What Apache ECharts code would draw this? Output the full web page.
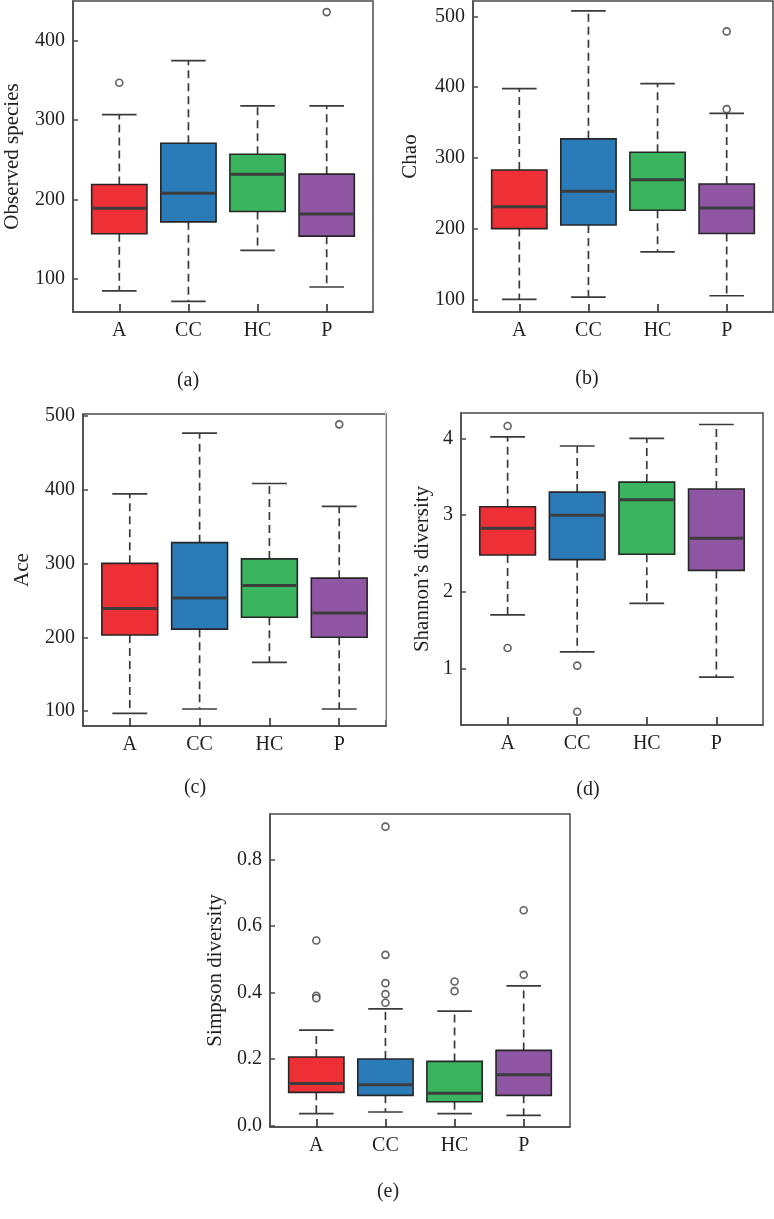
<!DOCTYPE html>
<html>
<head>
<meta charset="utf-8">
<script src="https://cdn.jsdelivr.net/npm/echarts@6/dist/echarts.min.js"></script>
<style>
html,body{margin:0;padding:0;background:#fff;}
#chart{width:774px;height:1219px;}
</style>
</head>
<body>
<div id="chart"></div>
<script>
const categories = ['A', 'CC', 'HC', 'P'];
const boxColors = ['#ed2f36', '#2a7bb8', '#3bb45f', '#8e56a3'];

// each row: [lower whisker, Q1, median, Q3, upper whisker], one row per category
const observedStats = [[85, 157, 189, 219, 307], [72, 172, 208, 271, 375], [136, 185, 232, 257, 318], [90, 154, 182, 232, 318]];
const observedOutliers = [[0, 347], [3, 436]];
const observedTicks = [100, 200, 300, 400];

const chaoStats = [[100, 200, 231, 283, 398], [103, 205, 253, 327, 508], [167, 226, 269, 308, 405], [105, 193, 229, 263, 363]];
const chaoOutliers = [[3, 479], [3, 369]];
const chaoTicks = [100, 200, 300, 400, 500];

const aceStats = [[97, 203, 239, 300, 394], [103, 211, 253, 328, 476], [166, 227, 270, 306, 408], [103, 200, 233, 280, 377]];
const aceOutliers = [[3, 488]];
const aceTicks = [100, 200, 300, 400, 500];

const shannonStats = [[1.70, 2.48, 2.83, 3.11, 4.02], [1.22, 2.42, 3.00, 3.30, 3.90], [1.85, 2.49, 3.20, 3.43, 4.00], [0.89, 2.28, 2.70, 3.34, 4.18]];
const shannonOutliers = [[0, 4.16], [0, 1.27], [1, 1.04], [1, 0.44]];
const shannonTicks = [1, 2, 3, 4];

const simpsonStats = [[0.036, 0.100, 0.127, 0.206, 0.287], [0.041, 0.091, 0.123, 0.200, 0.351], [0.036, 0.072, 0.097, 0.193, 0.344], [0.031, 0.091, 0.153, 0.226, 0.420]];
const simpsonOutliers = [[0, 0.556], [0, 0.390], [0, 0.383], [1, 0.898], [1, 0.513], [1, 0.428], [1, 0.395], [1, 0.369], [2, 0.433], [2, 0.404], [3, 0.647], [3, 0.453]];
const simpsonTicks = [0, 0.2, 0.4, 0.6, 0.8];

const catPositions = [0, 1, 2, 3];

const FONT = 'Liberation Serif';
const TXT = '#231f20';
const AXC = '#4a4a4a';

const panels = [
  {stats: observedStats, out: observedOutliers, ticks: observedTicks, name: 'Observed species', cap: '(a)',
   grid: {left: 73, top: 1, width: 300, height: 311}, ymin: 58.5, ymax: 450, gap: 50, dec: 0, capX: 183, capY: 366},
  {stats: chaoStats, out: chaoOutliers, ticks: chaoTicks, name: 'Chao', cap: '(b)',
   grid: {left: 473, top: 1, width: 300, height: 311}, ymin: 82, ymax: 522, gap: 52, dec: 0, capX: 582, capY: 364},
  {stats: aceStats, out: aceOutliers, ticks: aceTicks, name: 'Ace', cap: '(c)',
   grid: {left: 83, top: 414, width: 303, height: 312}, ymin: 80, ymax: 502, gap: 50, dec: 0, capX: 190, capY: 773},
  {stats: shannonStats, out: shannonOutliers, ticks: shannonTicks, name: 'Shannon\u2019s diversity', cap: '(d)',
   grid: {left: 461, top: 413, width: 302, height: 312}, ymin: 0.267, ymax: 4.33, gap: 28, dec: 0, capX: 583, capY: 775},
  {stats: simpsonStats, out: simpsonOutliers, ticks: simpsonTicks, name: 'Simpson diversity', cap: '(e)',
   grid: {left: 270, top: 814, width: 300, height: 313}, ymin: -0.004, ymax: 0.936, gap: 44, dec: 1, capX: 383, capY: 1177}
];

function renderBox(params, api) {
  const x = api.value(0);
  const lo = api.coord([x, api.value(1)]);
  const q1 = api.coord([x, api.value(2)]);
  const md = api.coord([x, api.value(3)]);
  const q3 = api.coord([x, api.value(4)]);
  const hi = api.coord([x, api.value(5)]);
  const bw = api.size([0.8, 0])[0];
  const cw = api.size([0.5, 0])[0];
  const cx = lo[0];
  const wStyle = {stroke: '#3a3a3a', lineWidth: 1.7, lineDash: [8, 5]};
  const cStyle = {stroke: '#3a3a3a', lineWidth: 1.7};
  return {
    type: 'group',
    children: [
      {type: 'line', shape: {x1: cx, y1: q3[1], x2: cx, y2: hi[1]}, style: wStyle},
      {type: 'line', shape: {x1: cx, y1: q1[1], x2: cx, y2: lo[1]}, style: wStyle},
      {type: 'line', shape: {x1: cx - cw / 2, y1: hi[1], x2: cx + cw / 2, y2: hi[1]}, style: cStyle},
      {type: 'line', shape: {x1: cx - cw / 2, y1: lo[1], x2: cx + cw / 2, y2: lo[1]}, style: cStyle},
      {type: 'rect', shape: {x: cx - bw / 2, y: q3[1], width: bw, height: q1[1] - q3[1]},
       style: {fill: boxColors[x], stroke: '#262626', lineWidth: 1.6}},
      {type: 'line', shape: {x1: cx - bw / 2 + 1, y1: md[1], x2: cx + bw / 2 - 1, y2: md[1]},
       style: {stroke: '#3d3d3d', lineWidth: 3}}
    ]
  };
}

const option = {
  animation: false,
  backgroundColor: '#fff',
  title: [],
  grid: [],
  xAxis: [],
  yAxis: [],
  series: [],
  graphic: [{
    type: 'line', shape: {x1: 385.5, y1: 410, x2: 385.5, y2: 720},
    style: {stroke: '#c8c8c8', lineWidth: 1}
  }]
};

panels.forEach((p, i) => {
  option.grid.push(Object.assign({show: true, borderColor: AXC, borderWidth: 1.5, backgroundColor: 'transparent'}, p.grid));
  option.xAxis.push({
    type: 'value', gridIndex: i, min: -0.67, max: 3.67,
    axisLine: {show: true, onZero: false, lineStyle: {color: AXC, width: 1.5}},
    axisTick: {show: true, inside: true, length: 8, customValues: catPositions, lineStyle: {color: '#3a3a3a', width: 1.7}},
    axisLabel: {customValues: catPositions, formatter: v => categories[Math.round(v)],
      fontFamily: FONT, fontSize: 20, color: TXT, margin: 9},
    splitLine: {show: false}
  });
  option.yAxis.push({
    type: 'value', gridIndex: i, min: p.ymin, max: p.ymax,
    name: p.name, nameLocation: 'middle', nameGap: p.gap,
    nameTextStyle: {fontFamily: FONT, fontSize: 21, color: TXT},
    axisLine: {show: true, onZero: false, lineStyle: {color: AXC, width: 1.5}},
    axisTick: {show: true, inside: true, length: 5, customValues: p.ticks, lineStyle: {color: AXC, width: 1.5}},
    axisLabel: {customValues: p.ticks, formatter: v => v.toFixed(p.dec),
      fontFamily: FONT, fontSize: 20, color: TXT, margin: 8},
    splitLine: {show: false}
  });
  option.series.push({
    type: 'custom', xAxisIndex: i, yAxisIndex: i,
    data: p.stats.map((s, k) => [catPositions[k]].concat(s)),
    encode: {x: 0, y: [1, 2, 3, 4, 5]},
    renderItem: renderBox
  });
  option.series.push({
    type: 'scatter', xAxisIndex: i, yAxisIndex: i, z: 5,
    data: p.out, symbol: 'circle', symbolSize: 7,
    itemStyle: {color: '#fff', borderColor: '#3a3a3a', borderWidth: 1.6}
  });
  option.title.push({
    text: p.cap, left: p.capX, top: p.capY, textAlign: 'center',
    textStyle: {fontFamily: FONT, fontSize: 20, fontWeight: 'normal', color: TXT}
  });
});

const chart = echarts.init(document.getElementById('chart'), null, {renderer: 'canvas'});
chart.setOption(option);
</script>
</body>
</html>
